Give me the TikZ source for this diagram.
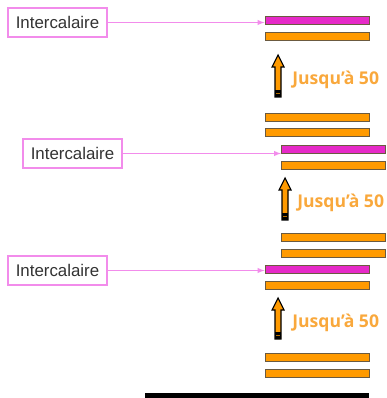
\documentclass[tikz,border=0pt]{standalone}
\usepackage{fontspec}
\setmainfont{Liberation Sans}
\newfontfamily\amountfont{Open Sans}
\usepackage{tikz}
\usetikzlibrary{arrows,calc,positioning}
\definecolor{pinkline}{HTML}{F28CEB}
\definecolor{spacermag}{HTML}{E62AC8}
\definecolor{sheetorange}{HTML}{FF9A00}
\definecolor{barline}{HTML}{6B5A40}
\definecolor{amountorange}{HTML}{F9A83C}
\definecolor{textgray}{HTML}{333333}
% x = center, top, bottom
\newcommand{\stackArrow}[3]{%
\filldraw[fill=sheetorange, draw=black, line width=0.8pt] (#1-3,#3) -- (#1-3,#2+12) -- (#1-6,#2+12) -- (#1,#2) -- (#1+6,#2+12) -- (#1+3,#2+12) -- (#1+3,#3) -- cycle;
\fill[black] (#1-3,#3-7) rectangle (#1+3,#3);
\draw[sheetorange!70!black, line width=0.6pt] (#1-2,#3-4) -- (#1+2,#3-4);
}

\begin{document}
\begin{tikzpicture}[x=0.025cm,y=-0.025cm,
  tagbox/.style={draw=pinkline, line width=0.9pt, minimum width=2.475cm, minimum height=0.725cm, inner sep=0pt, text=textgray, font=\fontsize{12}{14}\selectfont},
  sheet/.style={draw=barline, line width=0.6pt, fill=sheetorange, minimum width=2.6cm, minimum height=0.2cm, inner sep=0pt},
  spacer/.style={sheet, fill=spacermag},
  amount/.style={anchor=west, inner sep=0pt, text=amountorange, font=\amountfont\bfseries\fontsize{12.5}{15}\selectfont},
  pointer/.style={draw=pinkline, line width=0.7pt, -latex}]
\useasboundingbox (0,0) rectangle (386,398);
% top stack
\node[tagbox] (t1) at (57.5,22.5) {Intercalaire};
\node[spacer] (s1) at (317,20.5) {};
\node[sheet] (a1) at (317,36) {};
\stackArrow{278}{55}{97}
\node[amount] (n1) at (292,80) {Jusqu’à 50};
\node[sheet] (b1) at (317,117) {};
\node[sheet] (c1) at (317,132.5) {};
\draw[pointer] (t1.east) -- (t1.east -| s1.west);
% middle stack
\node[tagbox] (t2) at (72.5,153.5) {Intercalaire};
\node[spacer] (s2) at (333.5,149) {};
\node[sheet] (a2) at (333.5,165) {};
\stackArrow{285}{178}{220}
\node[amount] (n2) at (297,203) {Jusqu’à 50};
\node[sheet] (b2) at (333.5,237) {};
\node[sheet] (c2) at (333.5,253) {};
\draw[pointer] (t2.east) -- (t2.east -| s2.west);
% bottom stack
\node[tagbox] (t3) at (57.5,270.5) {Intercalaire};
\node[spacer] (s3) at (317,269) {};
\node[sheet] (a3) at (317,285) {};
\stackArrow{278}{298}{339}
\node[amount] (n3) at (292,323) {Jusqu’à 50};
\node[sheet] (b3) at (317,357.5) {};
\node[sheet] (c3) at (317,373.5) {};
\draw[pointer] (t3.east) -- (t3.east -| s3.west);
% base
\fill[black] (145,393) rectangle (369,398);
\end{tikzpicture}
\end{document}
